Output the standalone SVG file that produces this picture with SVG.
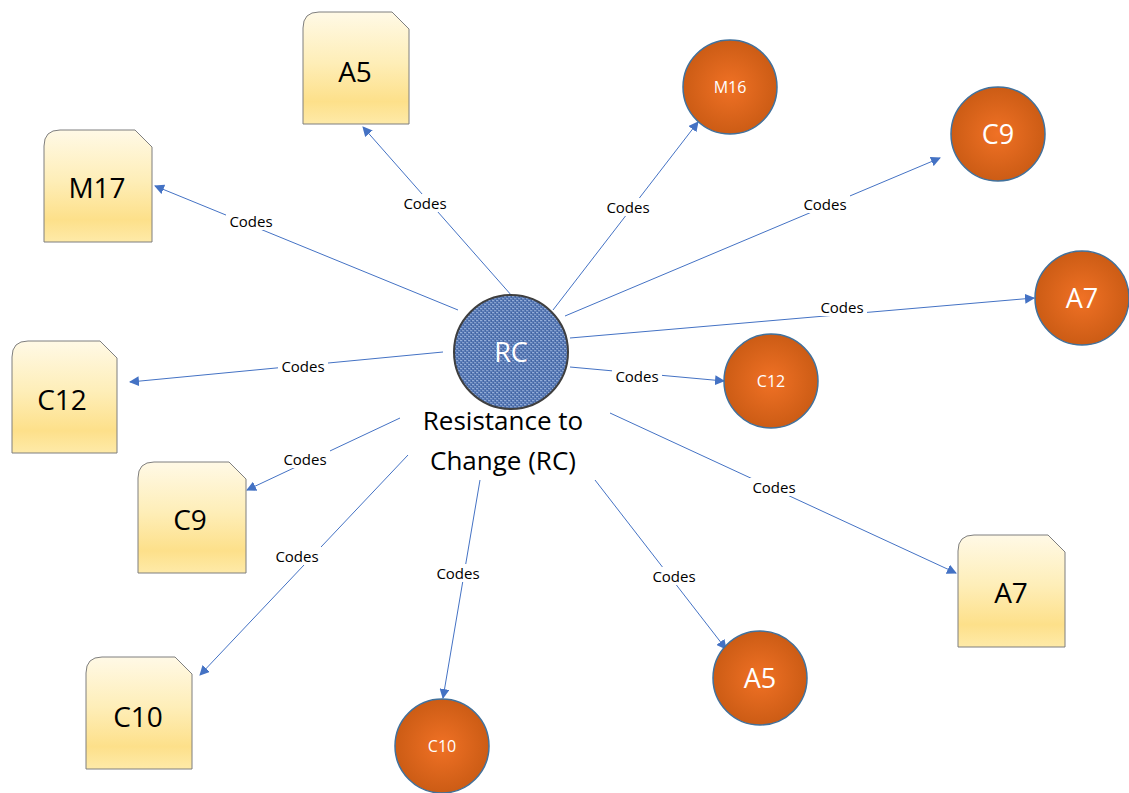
<svg xmlns="http://www.w3.org/2000/svg" width="1129" height="793" viewBox="0 0 1129 793">
  <defs>
    <linearGradient id="docFill" x1="0" y1="0" x2="0" y2="1">
      <stop offset="0" stop-color="#fff9e6"/>
      <stop offset="0.45" stop-color="#feeeb8"/>
      <stop offset="0.8" stop-color="#fde08a"/>
      <stop offset="1" stop-color="#feeaa8"/>
    </linearGradient>
    <radialGradient id="orangeFill" cx="0.5" cy="0.5" r="0.5">
      <stop offset="0" stop-color="#f07125"/>
      <stop offset="1" stop-color="#cc5c15"/>
    </radialGradient>
    <pattern id="weave" width="4" height="4" patternUnits="userSpaceOnUse">
      <rect width="4" height="4" fill="#5a7cb8"/>
      <rect x="0" y="0" width="2" height="1" fill="#93acd6"/>
      <rect x="2" y="2" width="2" height="1" fill="#86a0cd"/>
      <rect x="3" y="0" width="1" height="2" fill="#4565a1"/>
      <rect x="1" y="2" width="1" height="2" fill="#4a6aa4"/>
    </pattern>
    <marker id="arrow" viewBox="0 0 10 10" refX="9" refY="5" markerWidth="10" markerHeight="10" markerUnits="userSpaceOnUse" orient="auto">
      <path d="M0,0 L10,5 L0,10 Z" fill="#4472c4"/>
    </marker>
    <style>
      .edge { stroke: #4472c4; stroke-width: 1; fill: none; marker-end: url(#arrow); }
      .doc { fill: url(#docFill); stroke: #7f7f7f; stroke-width: 1; }
      .code { fill: url(#orangeFill); stroke: #41719c; stroke-width: 1.5; }
      .docText { font-family: "Open Sans", "Liberation Sans", sans-serif; font-size: 28px; fill: #000; text-anchor: middle; }
      .bigCode { font-family: "Open Sans", "Liberation Sans", sans-serif; font-size: 27px; fill: #fff; text-anchor: middle; }
      .smallCode { font-family: "Open Sans", "Liberation Sans", sans-serif; font-size: 16px; fill: #fff; text-anchor: middle; }
      .lbl { font-family: "Open Sans", "Liberation Sans", sans-serif; font-size: 15px; fill: #000; text-anchor: middle; }
      .lblBg { fill: #fff; }
      .title { font-family: "Open Sans", "Liberation Sans", sans-serif; font-size: 26px; fill: #000; text-anchor: middle; }
    </style>
  </defs>

  <rect width="1129" height="793" fill="#fff"/>

  <!-- connectors from the central RC node -->
  <g id="connectors">
    <line class="edge" x1="458" y1="310" x2="155" y2="186"/>
    <line class="edge" x1="512" y1="296" x2="363" y2="127"/>
    <line class="edge" x1="553" y1="310" x2="698" y2="122"/>
    <line class="edge" x1="565" y1="316" x2="940" y2="158"/>
    <line class="edge" x1="570" y1="338" x2="1034" y2="298"/>
    <line class="edge" x1="570" y1="367" x2="724" y2="381"/>
    <line class="edge" x1="443" y1="352" x2="130" y2="382"/>
    <line class="edge" x1="400" y1="418" x2="247" y2="490"/>
    <line class="edge" x1="408" y1="455" x2="200" y2="675"/>
    <line class="edge" x1="480" y1="480" x2="443" y2="698"/>
    <line class="edge" x1="595" y1="480" x2="726" y2="649"/>
    <line class="edge" x1="610" y1="413" x2="956" y2="573"/>

    <g id="edge-labels">
      <rect class="lblBg" x="226" y="212" width="50" height="18"/>
      <text class="lbl" x="251" y="227">Codes</text>
      <rect class="lblBg" x="400" y="194" width="50" height="18"/>
      <text class="lbl" x="425" y="209">Codes</text>
      <rect class="lblBg" x="603" y="198" width="50" height="18"/>
      <text class="lbl" x="628" y="213">Codes</text>
      <rect class="lblBg" x="800" y="195" width="50" height="18"/>
      <text class="lbl" x="825" y="210">Codes</text>
      <rect class="lblBg" x="817" y="298" width="50" height="18"/>
      <text class="lbl" x="842" y="313">Codes</text>
      <rect class="lblBg" x="612" y="367" width="50" height="18"/>
      <text class="lbl" x="637" y="382">Codes</text>
      <rect class="lblBg" x="278" y="357" width="50" height="18"/>
      <text class="lbl" x="303" y="372">Codes</text>
      <rect class="lblBg" x="280" y="450" width="50" height="18"/>
      <text class="lbl" x="305" y="465">Codes</text>
      <rect class="lblBg" x="272" y="547" width="50" height="18"/>
      <text class="lbl" x="297" y="562">Codes</text>
      <rect class="lblBg" x="433" y="564" width="50" height="18"/>
      <text class="lbl" x="458" y="579">Codes</text>
      <rect class="lblBg" x="649" y="567" width="50" height="18"/>
      <text class="lbl" x="674" y="582">Codes</text>
      <rect class="lblBg" x="749" y="478" width="50" height="18"/>
      <text class="lbl" x="774" y="493">Codes</text>
    </g>
  </g>

  <!-- central node -->
  <g id="node-rc">
    <circle cx="511" cy="352" r="57" fill="url(#weave)" stroke="#3f3f3f" stroke-width="2"/>
    <text x="511" y="362" font-family="'Open Sans', 'Liberation Sans', sans-serif" font-size="27" fill="#fff" text-anchor="middle">RC</text>
    <text class="title" x="503" y="430">Resistance to</text>
    <text class="title" x="503" y="470">Change (RC)</text>
  </g>

  <!-- document nodes: rounded top-left, snipped top-right -->
  <g id="doc-a5">
    <path class="doc" d="M303,124 L303,28 Q303,12 319,12 L392,12 L409,29 L409,124 Z"/>
    <text class="docText" x="355" y="82">A5</text>
  </g>
  <g id="doc-m17">
    <path class="doc" d="M44,242 L44,146 Q44,130 60,130 L135,130 L152,147 L152,242 Z"/>
    <text class="docText" x="97" y="198">M17</text>
  </g>
  <g id="doc-c12">
    <path class="doc" d="M12,453 L12,357 Q12,341 28,341 L100,341 L117,358 L117,453 Z"/>
    <text class="docText" x="62" y="410">C12</text>
  </g>
  <g id="doc-c9">
    <path class="doc" d="M138,573 L138,478 Q138,462 154,462 L229,462 L246,479 L246,573 Z"/>
    <text class="docText" x="190" y="530">C9</text>
  </g>
  <g id="doc-c10">
    <path class="doc" d="M86,769 L86,673 Q86,657 102,657 L175,657 L192,674 L192,769 Z"/>
    <text class="docText" x="138" y="727">C10</text>
  </g>
  <g id="doc-a7">
    <path class="doc" d="M958,647 L958,551 Q958,535 974,535 L1048,535 L1065,552 L1065,647 Z"/>
    <text class="docText" x="1011" y="603">A7</text>
  </g>

  <!-- code nodes -->
  <g id="code-m16">
    <circle class="code" cx="730" cy="87" r="47"/>
    <text class="smallCode" x="730" y="93">M16</text>
  </g>
  <g id="code-c9">
    <circle class="code" cx="998" cy="134" r="47"/>
    <text class="bigCode" x="998" y="144">C9</text>
  </g>
  <g id="code-a7">
    <circle class="code" cx="1082" cy="298" r="47"/>
    <text class="bigCode" x="1082" y="308">A7</text>
  </g>
  <g id="code-c12">
    <circle class="code" cx="771" cy="381" r="47"/>
    <text class="smallCode" x="771" y="387">C12</text>
  </g>
  <g id="code-a5">
    <circle class="code" cx="760" cy="678" r="47"/>
    <text class="bigCode" x="760" y="688">A5</text>
  </g>
  <g id="code-c10">
    <circle class="code" cx="442" cy="746" r="47"/>
    <text class="smallCode" x="442" y="752">C10</text>
  </g>
</svg>
